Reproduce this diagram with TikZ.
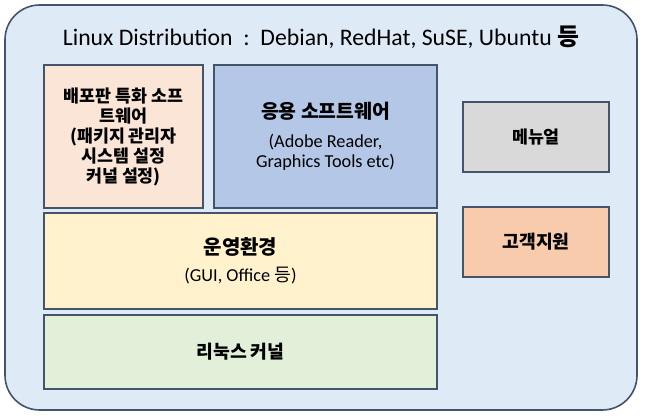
\documentclass[tikz,border=0pt]{standalone}
\usepackage{fontspec}
\setmainfont{Carlito}
\newfontfamily\kr{Noto Sans CJK KR}
\usetikzlibrary{positioning}
\definecolor{linecol}{HTML}{44546A}
\definecolor{outerblue}{HTML}{DEEBF7}
\definecolor{peach}{HTML}{FBE5D6}
\definecolor{appblue}{HTML}{B4C7E7}
\definecolor{manualgray}{HTML}{D9D9D9}
\definecolor{supportorange}{HTML}{F8CBAD}
\definecolor{envyellow}{HTML}{FFF2CC}
\definecolor{kernelgreen}{HTML}{E2F0D9}

\begin{document}
\begin{tikzpicture}[x=0.75pt,y=-0.75pt,
box/.style={draw=linecol, line width=1.1pt, inner sep=0pt, align=center,
  font=\fontsize{13.7}{15}\selectfont},
kobold/.style={font=\kr\bfseries\fontsize{13.7}{15}\selectfont},
]
\useasboundingbox (0,0) rectangle (645,416);
% distribution frame
\draw[fill=outerblue, draw=linecol, line width=1.2pt, rounded corners=26pt]
  (5,5) rectangle (637,410);
\node (title) at (321,37) {\fontsize{17.8}{20}\selectfont Linux Distribution\ \ :\ \ Debian, RedHat, SuSE, Ubuntu {\kr\bfseries 등}};

% layers
\node[box, kobold, font=\kr\bfseries\fontsize{13}{15}\selectfont, fill=peach,
  minimum width=119.25pt, minimum height=107.25pt] (pkgsw) at (123.5,136.5)
  {배포판 특화 소프\\트웨어\\(패키지 관리자\\시스템 설정\\커널 설정)};
\node[box, fill=appblue, minimum width=167.25pt, minimum height=107.25pt] (appsw) at (325.5,136.5)
  {{\kr\bfseries\fontsize{14.5}{15}\selectfont 응용 소프트웨어}\\[7pt](Adobe Reader,\\Graphics Tools etc)};
\node[box, fill=envyellow, minimum width=294.75pt, minimum height=72pt] (desktop) at (240.5,261)
  {{\kr\bfseries\fontsize{15}{15}\selectfont 운영환경}\\[5pt](GUI, Office {\kr 등})};
\node[box, kobold, fill=kernelgreen, minimum width=294.75pt, minimum height=55.5pt] (kernel) at (240.5,352)
  {리눅스 커널};

% side boxes
\node[box, kobold, font=\kr\bfseries\fontsize{13}{15}\selectfont, fill=manualgray,
  minimum width=109.5pt, minimum height=52.5pt] (manual) at (536,137) {메뉴얼};
\node[box, kobold, fill=supportorange, minimum width=109.5pt, minimum height=52.5pt] (support) at (536,242) {고객지원};
\end{tikzpicture}
\end{document}
